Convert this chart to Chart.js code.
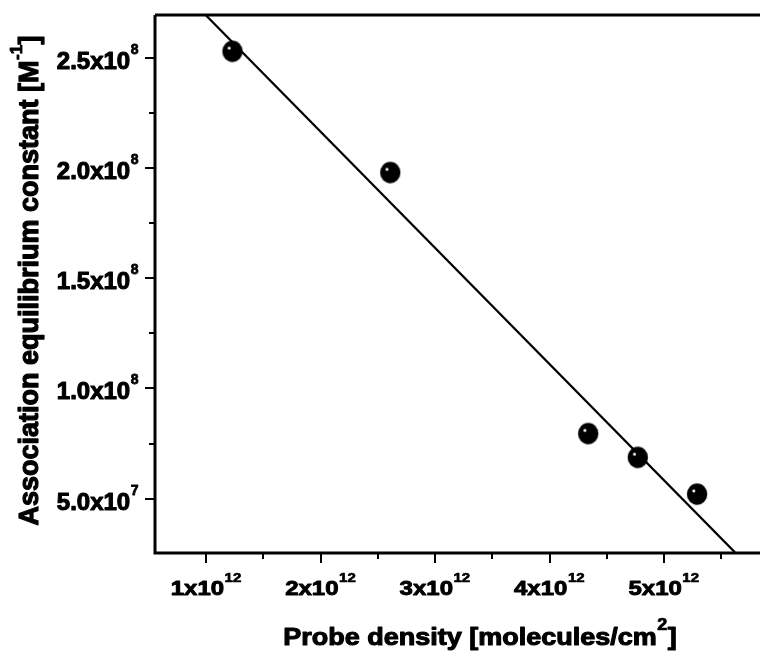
<!DOCTYPE html>
<html><head><meta charset="utf-8">
<script src="https://cdn.jsdelivr.net/npm/chart.js@4/dist/chart.umd.min.js"></script>
<style>html,body{margin:0;padding:0;background:#fff}#wrap{width:772px;height:653px}</style>
</head><body><div id="wrap"><canvas id="c" width="772" height="653"></canvas></div>
<script>
// ---- data ----
const probeDensity = [1.229e12, 2.608e12, 4.338e12, 4.771e12, 5.289e12];
const assocConstant = [2.53e8, 1.98e8, 0.795e8, 0.687e8, 0.520e8];
const fitLineX = [0.985e12, 5.62e12];
const fitLineY = [2.70e8, 0.256e8];

const xTickValues = [1e12, 2e12, 3e12, 4e12, 5e12];
const xTickMain = ['1x10', '2x10', '3x10', '4x10', '5x10'];
const xTickExp = ['12', '12', '12', '12', '12'];
const xMinorTicks = [1.5e12, 2.5e12, 3.5e12, 4.5e12, 5.5e12];

const yTickValues = [2.5e8, 2.0e8, 1.5e8, 1.0e8, 0.5e8];
const yTickMain = ['2.5x10', '2.0x10', '1.5x10', '1.0x10', '5.0x10'];
const yTickExp = ['8', '8', '8', '8', '7'];
const yMinorTicks = [0.75e8, 1.25e8, 1.75e8, 2.25e8];

const xTitleMain = 'Probe density [molecules/cm';
const xTitleExp = '2';
const xTitleEnd = ']';
const yTitleMain = 'Association equilibrium constant [M';
const yTitleExp = '-1';
const yTitleEnd = ']';

const FONT = "'Liberation Sans', Arial, Helvetica, sans-serif";

function makeMarker() {
  const c = document.createElement('canvas');
  c.width = 24; c.height = 24;
  const g = c.getContext('2d');
  g.fillStyle = '#000';
  g.beginPath(); g.ellipse(12, 12, 10.2, 10.7, 0, 0, Math.PI * 2); g.fill();
  g.fillStyle = '#fff';
  g.beginPath(); g.arc(8.7, 8.8, 1.5, 0, Math.PI * 2); g.fill();
  return c;
}

function txt(ctx, s, x, y, sw) {
  ctx.fillText(s, x, y);
  if (sw) { ctx.lineWidth = sw; ctx.strokeText(s, x, y); }
}

// draw main + superscript (+ optional tail) text; align: 'left'|'center'|'right'
function drawSup(ctx, main, exp, tail, x, baseline, align, mainPx, expPx, rise, sw) {
  const mf = 'bold ' + mainPx + 'px ' + FONT;
  const ef = 'bold ' + expPx + 'px ' + FONT;
  ctx.font = mf; const wm = ctx.measureText(main).width;
  const wt = tail ? ctx.measureText(tail).width : 0;
  ctx.font = ef; const we = ctx.measureText(exp).width;
  const total = wm + we + 1 + wt;
  let sx = x;
  if (align === 'center') sx = x - total / 2;
  else if (align === 'right') sx = x - total;
  ctx.textAlign = 'left'; ctx.textBaseline = 'alphabetic';
  ctx.lineJoin = 'round';
  ctx.font = mf; txt(ctx, main, sx, baseline, sw);
  ctx.font = ef; txt(ctx, exp, sx + wm + 0.5, baseline - rise, sw * 0.7);
  if (tail) { ctx.font = mf; txt(ctx, tail, sx + wm + we + 1, baseline, sw); }
}

const axesPlugin = {
  id: 'axesPlugin',
  afterDraw(chart) {
    const { ctx, chartArea: a, scales: { x, y } } = chart;
    ctx.save();
    ctx.fillStyle = '#000';
    ctx.strokeStyle = '#000';
    // frame: left, bottom, top
    ctx.lineWidth = 3;
    ctx.beginPath();
    ctx.moveTo(a.left, a.top); ctx.lineTo(a.left, a.bottom); ctx.lineTo(a.right, a.bottom);
    ctx.moveTo(a.left, a.top); ctx.lineTo(a.right, a.top);
    ctx.stroke();
    // ticks
    ctx.lineWidth = 2;
    ctx.beginPath();
    xTickValues.forEach(v => { const p = Math.round(x.getPixelForValue(v)); ctx.moveTo(p, a.bottom); ctx.lineTo(p, a.bottom + 10); });
    xMinorTicks.forEach(v => { const p = Math.round(x.getPixelForValue(v)); ctx.moveTo(p, a.bottom); ctx.lineTo(p, a.bottom + 6); });
    yTickValues.forEach(v => { const p = Math.round(y.getPixelForValue(v)); ctx.moveTo(a.left, p); ctx.lineTo(a.left - 10, p); });
    yMinorTicks.forEach(v => { const p = Math.round(y.getPixelForValue(v)); ctx.moveTo(a.left, p); ctx.lineTo(a.left - 6, p); });
    ctx.stroke();
    // y tick labels
    yTickValues.forEach((v, i) => {
      const p = y.getPixelForValue(v);
      drawSup(ctx, yTickMain[i], yTickExp[i], '', a.left - 16, p + 11, 'right', 24, 14, 15, 1.1);
    });
    // x tick labels (slightly squished vertically like the reference)
    xTickValues.forEach((v, i) => {
      const p = x.getPixelForValue(v);
      ctx.save();
      ctx.translate(p, 595);
      ctx.scale(1, 0.87);
      drawSup(ctx, xTickMain[i], xTickExp[i], '', 0, 0, 'center', 24, 15, 15, 1.1);
      ctx.restore();
    });
    // x title
    ctx.save();
    ctx.translate(480, 645);
    ctx.scale(1, 0.87);
    drawSup(ctx, xTitleMain, xTitleExp, xTitleEnd, 0, 0, 'center', 27, 18, 17, 1.2);
    ctx.restore();
    // y title
    ctx.save();
    ctx.translate(38, 280.5);
    ctx.rotate(-Math.PI / 2);
    drawSup(ctx, yTitleMain, yTitleExp, yTitleEnd, 0, 0, 'center', 27, 17, 16, 1.2);
    ctx.restore();
    ctx.restore();
  }
};

const marker = makeMarker();

new Chart(document.getElementById('c'), {
  type: 'scatter',
  data: {
    datasets: [
      {
        label: 'fit',
        data: fitLineX.map((v, i) => ({ x: v, y: fitLineY[i] })),
        showLine: true,
        borderColor: '#000',
        borderWidth: 2.2,
        pointRadius: 0,
        fill: false,
        order: 2
      },
      {
        label: 'data',
        data: probeDensity.map((v, i) => ({ x: v, y: assocConstant[i] })),
        pointStyle: marker,
        pointRadius: 11,
        order: 1
      }
    ]
  },
  options: {
    responsive: false,
    animation: false,
    layout: { padding: { left: 155, top: 15, right: 0, bottom: 100 } },
    plugins: { legend: { display: false }, tooltip: { enabled: false } },
    scales: {
      x: { type: 'linear', display: false, min: 0.552e12, max: 5.839e12 },
      y: { type: 'linear', display: false, min: 0.253e8, max: 2.695e8 }
    }
  },
  plugins: [axesPlugin]
});
</script>
</body></html>
